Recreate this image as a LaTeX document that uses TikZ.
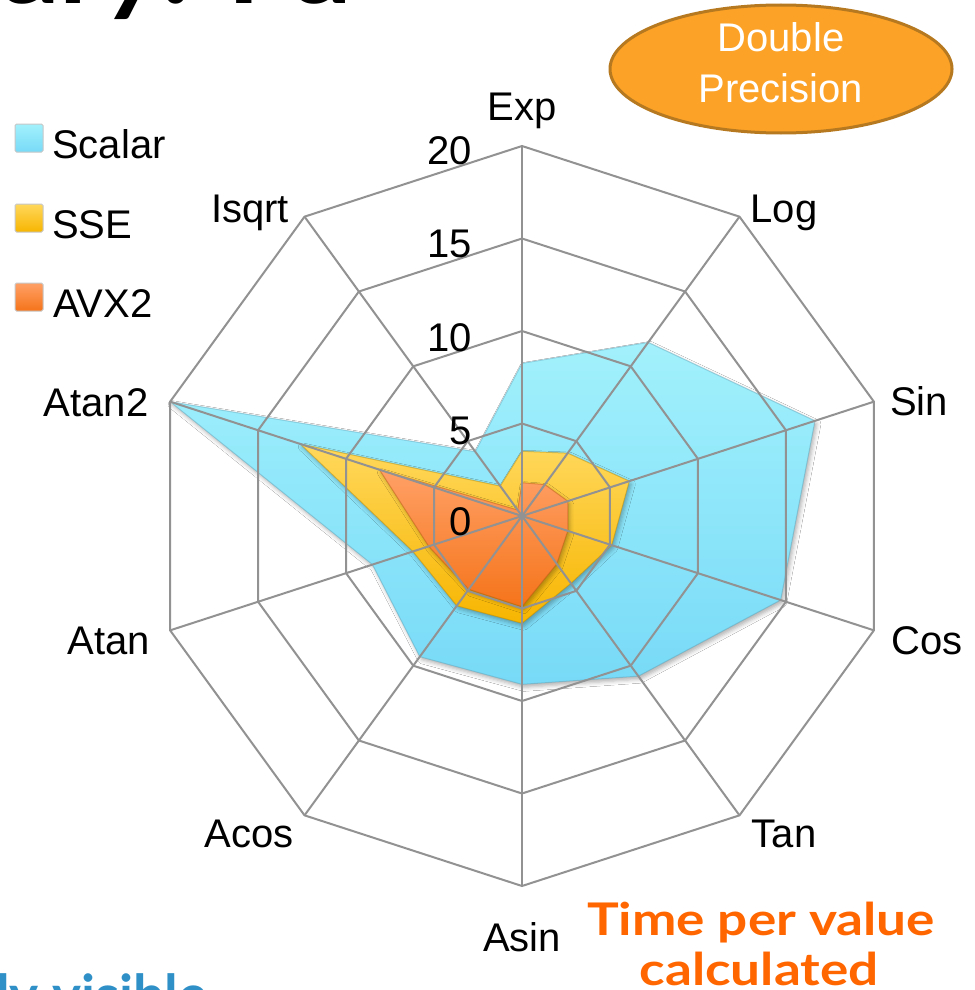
\documentclass[tikz,border=0pt]{standalone}
\usepackage{fontspec}
\setmainfont{Liberation Sans}
\newfontfamily\headfont{Lato}
\newfontfamily\notefont{Lato}[FakeStretch=1.18]
\usetikzlibrary{calc,shapes.geometric,shadows.blur}

\definecolor{gridgray}{HTML}{929292}
\definecolor{scalarTop}{HTML}{A2F1FC}
\definecolor{scalarBot}{HTML}{78DAF7}
\definecolor{sseTop}{HTML}{FFD85C}
\definecolor{sseBot}{HTML}{F7B500}
\definecolor{avxTop}{HTML}{FFA066}
\definecolor{avxBot}{HTML}{F5741A}
\definecolor{badgeFill}{HTML}{FCA226}
\definecolor{badgeEdge}{HTML}{B7791F}
\definecolor{noteOrange}{HTML}{FF6600}
\definecolor{noteBlue}{HTML}{2F90C8}

\begin{document}
\begin{tikzpicture}[x=1pt,y=-1pt,
  gridline/.style={draw=gridgray, line width=2pt, line join=miter},
  seriesarea/.style args={#1/#2}{top color=#1, bottom color=#2,
      draw=#2!75!black, draw opacity=0.45, line width=1pt, line join=round,
      blur shadow={shadow xshift=2pt, shadow yshift=-3pt,
                   shadow blur radius=4pt, shadow opacity=30}},
  axlab/.style={font=\fontsize{40}{48}\selectfont, inner sep=0pt, anchor=base},
  numlab/.style={font=\fontsize{40}{48}\selectfont, inner sep=0pt, anchor=base east},
  legkey/.style args={#1/#2}{minimum size=28pt, inner sep=0pt,
      top color=#1, bottom color=#2, draw=black!22, line width=1pt,
      rounded corners=1.5pt},
  legtext/.style={font=\fontsize{40}{48}\selectfont, inner sep=0pt, anchor=base west},
  badge/.style={ellipse, minimum width=342pt, minimum height=128pt, inner sep=0pt,
      fill=badgeFill, draw=badgeEdge, line width=3pt},
  badgetext/.style={font=\fontsize{40}{48}\selectfont, text=white, inner sep=0pt, anchor=base},
  notetext/.style={font=\notefont\bfseries\fontsize{45}{50}\selectfont,
      text=noteOrange, inner sep=0pt, anchor=base},
]
\useasboundingbox (0,0) rectangle (974,990);
\fill[white] (0,0) rectangle (974,990);

% slide title and footer, only partly on the page
\node[font=\notefont\bfseries\fontsize{96}{100}\selectfont, inner sep=0pt,
      anchor=base west] (title) at (2,4) {ary: Fu};
\node[font=\headfont\bfseries\fontsize{55}{60}\selectfont, text=noteBlue,
      inner sep=0pt, anchor=base west] (footer) at (-4,1014) {ly visible};

% chart centre; 18.5pt per unit, 10 axes clockwise from the top
\coordinate (O) at (522,516);

% series values: Exp, Log, Sin, Cos, Tan, Asin, Acos, Atan, Atan2, Isqrt
\foreach \v [count=\k from 0] in {8.25,11.6,16.65,14.7,10.7,9.1,9.4,8.5,20,4.3}
  \coordinate (sc\k) at ($(O)+(-90+36*\k:18.5*\v)$);
\foreach \v [count=\k from 0] in {3.5,4.2,6.1,5.1,4.5,5.8,6.0,6.2,12.6,2.0}
  \coordinate (ss\k) at ($(O)+(-90+36*\k:18.5*\v)$);
\foreach \v [count=\k from 0] in {1.8,2.1,2.6,2.6,3.2,4.9,4.9,5.3,8.1,0.4}
  \coordinate (av\k) at ($(O)+(-90+36*\k:18.5*\v)$);

\path[seriesarea=scalarTop/scalarBot] (sc0) \foreach \k in {1,...,9}{ -- (sc\k) } -- cycle;
\path[seriesarea=sseTop/sseBot] (ss0) \foreach \k in {1,...,9}{ -- (ss\k) } -- cycle;
\path[seriesarea=avxTop/avxBot] (av0) \foreach \k in {1,...,9}{ -- (av\k) } -- cycle;

% grid rings at 5, 10, 15, 20 and the spokes, over the areas
\foreach \r in {1,...,4}{
  \foreach \k in {0,...,9}
    \coordinate (g\r-\k) at ($(O)+(-90+36*\k:92.5*\r)$);
  \draw[gridline] (g\r-0) \foreach \k in {1,...,9}{ -- (g\r-\k) } -- cycle;
}
\foreach \k in {0,...,9}
  \draw[gridline] (O) -- (g4-\k);

% scale numbers
\node[numlab] (n0)  at (472,535) {0};
\node[numlab] (n5)  at (472,444) {5};
\node[numlab] (n10) at (472,351) {10};
\node[numlab] (n15) at (472,257) {15};
\node[numlab] (n20) at (472,164) {20};

% axis names
\node[axlab] (lExp)   at (522,120) {Exp};
\node[axlab] (lLog)   at (784,222) {Log};
\node[axlab] (lSin)   at (919,415) {Sin};
\node[axlab] (lCos)   at (927,654) {Cos};
\node[axlab] (lTan)   at (784,847) {Tan};
\node[axlab] (lAsin)  at (522,951) {Asin};
\node[axlab] (lAcos)  at (249,847) {Acos};
\node[axlab] (lAtan)  at (109,654) {Atan};
\node[axlab] (lAtan2) at (96,416)  {Atan2};
\node[axlab] (lIsqrt) at (250,222) {Isqrt};

% legend
\node[legkey=scalarTop/scalarBot] (kScalar) at (29,138) {};
\node[legkey=sseTop/sseBot]       (kSSE)    at (29,218) {};
\node[legkey=avxTop/avxBot]       (kAVX)    at (29,297) {};
\node[legtext] (tScalar) at (52,158) {Scalar};
\node[legtext] (tSSE)    at (52,238) {SSE};
\node[legtext] (tAVX)    at (53,317) {AVX2};

% precision badge
\node[badge] (badge) at (781,69) {};
\node[badgetext] (badgeA) at (781,52)  {Double};
\node[badgetext] (badgeB) at (781,102) {Precision};

% note under the chart
\node[notetext] (noteA) at (761,935) {Time per value};
\node[notetext] (noteB) at (759,985) {calculated};
\end{tikzpicture}
\end{document}
